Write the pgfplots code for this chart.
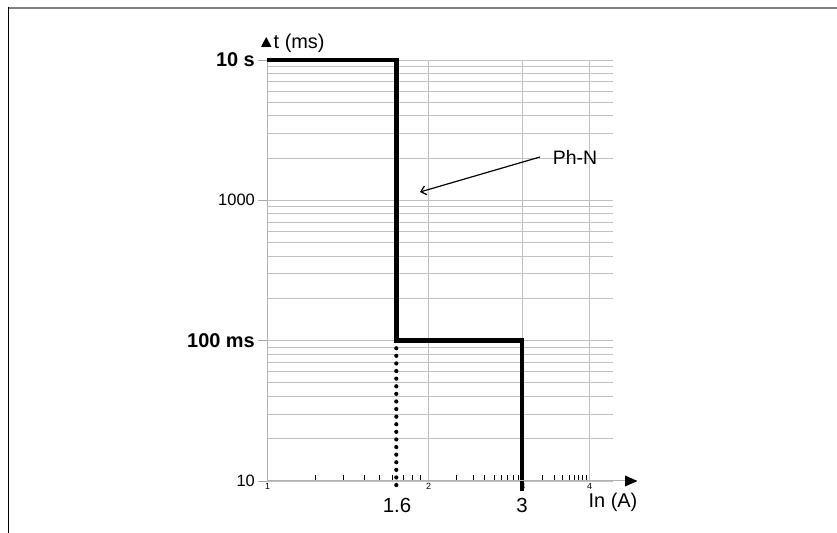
\documentclass[border=0pt]{standalone}
\usepackage{pgfplots}
\pgfplotsset{compat=1.18}
\usepackage{fontspec}
\setmainfont{Liberation Sans}
\usetikzlibrary{arrows.meta}
\begin{document}
\begin{tikzpicture}[x=1bp,y=1bp]
\useasboundingbox (0,0) rectangle (837,533);
\draw[line width=2bp, color=black!50] (8,524.5) -- (837,524.5);
\draw[line width=1bp] (8.5,0) -- (8.5,525.5);
\begin{axis}[
  at={(267bp,52bp)}, anchor=south west,
  scale only axis, width=346bp, height=421bp,
  ymode=log,
  xmin=0, xmax=2.149, ymin=10, ymax=10000,
  axis x line=bottom, axis y line=left,
  axis line style={draw=black!30, line width=1bp, -},
  xtick={0,1,1.585,2}, xticklabels={1,2,3,4},
  minor xtick={0.301,0.477,0.602,0.699,0.778,0.845,0.903,0.954,1.176,1.279,1.352,1.409,1.455,1.494,1.528,1.558,1.710,1.783,1.835,1.875,1.908,1.936,1.960,1.981},
  ytick={10,100,1000,10000},
  yticklabels={10,{\fontsize{20}{22}\selectfont\bfseries 100 ms},1000,{\fontsize{20}{22}\selectfont\bfseries 10 s}},
  xmajorgrids, ymajorgrids, yminorgrids,
  grid style={black!25, line width=0.9bp},
  major grid style={black!25, line width=0.9bp},
  minor grid style={black!25, line width=0.9bp},
  tick align=outside,
  major tick length=9bp, minor tick length=6bp,
  major x tick style={draw=none},
  minor x tick style={black, line width=0.7bp, yshift=6bp},
  major y tick style={black!35, line width=0.9bp},
  minor y tick style={draw=none},
  xticklabel style={font=\fontsize{9}{10}\selectfont, inner sep=1bp, yshift=7.5bp, xshift=0.5bp},
  yticklabel style={font=\fontsize{16.5}{18}\selectfont, inner sep=3bp},
  clip=false,
]
\addplot[black, line width=4.5bp, line join=miter] coordinates {(0,10000) (0.803,10000) (0.803,100) (1.585,100) (1.585,8.5)};
\addplot[black, line width=4.2bp, line cap=round, dash pattern=on 0bp off 7.6bp] coordinates {(0.803,100) (0.803,8.5)};
\end{axis}
% axis arrows and annotations
\draw[black!30, line width=1bp] (267,52) -- (626,52);
\fill (625,46.5) -- (637.5,52) -- (625,57.5) -- cycle;
\fill (261,486) -- (271.5,486) -- (266.2,496) -- cycle;
\node[anchor=west, font=\fontsize{20}{22}\selectfont, inner sep=0pt] at (273.5,489.5) {t (ms)};
\node[font=\fontsize{20.5}{22}\selectfont] at (397,28) {1.6};
\node[font=\fontsize{20.5}{22}\selectfont] at (522,28) {3};
\node[font=\fontsize{20}{22}\selectfont] at (613,31) {In (A)};
\node[font=\fontsize{19.5}{22}\selectfont] at (575,376) {Ph-N};
\draw[line width=1.2bp, -{Straight Barb[length=5bp,width=9bp]}] (540,376) -- (420,341);
\end{tikzpicture}
\end{document}
